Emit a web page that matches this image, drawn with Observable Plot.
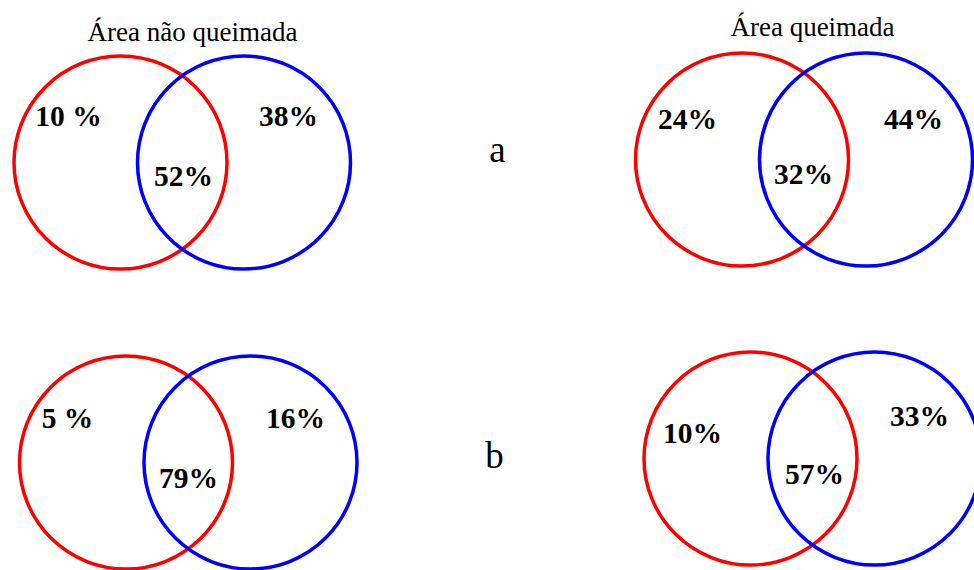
<!DOCTYPE html>
<html>
<head>
<meta charset="utf-8">
<script src="https://cdn.jsdelivr.net/npm/d3@7"></script>
<script src="https://cdn.jsdelivr.net/npm/@observablehq/plot@0.6"></script>
<style>
  html, body { margin: 0; padding: 0; background: #fff; }
  #chart svg { display: block; }
  #chart svg text { font-family: "Liberation Serif", "Times New Roman", Times, serif !important; }
</style>
</head>
<body>
<div id="chart"></div>
<script>
// ---- data ----
const groups = ["Área não queimada", "Área queimada"];
const panels = ["a", "b"];
// percentages per panel (rows a,b) x group (cols)
const redOnlyLabels = [["10 %", "24%"], ["5 %", "10%"]];
const overlapLabels = [["52%", "32%"], ["79%", "57%"]];
const blueOnlyLabels = [["38%", "44%"], ["16%", "33%"]];

// ---- layout (pixel positions of each diagram) ----
const redCenters = [[[120, 162], [741.5, 159]], [[125.5, 462], [750, 458]]];
const blueCenters = [[[243.5, 162], [865.5, 159]], [[250, 462], [874, 458]]];
const redLabelPos = [[[68, 125], [687, 128]], [[67, 427], [692, 442]]];
const overlapLabelPos = [[[183, 185], [803, 183]], [[188, 487], [814, 483]]];
const blueLabelPos = [[[288, 125], [913, 128]], [[295, 427], [919, 425]]];
const titlePos = [[192, 40], [812, 35]];
const panelLetterPos = [[497, 161], [494, 467]];

const circles = [];
const labels = [];
panels.forEach((p, i) => {
  groups.forEach((g, j) => {
    circles.push({x: redCenters[i][j][0], y: redCenters[i][j][1], c: "red"});
    circles.push({x: blueCenters[i][j][0], y: blueCenters[i][j][1], c: "blue"});
    labels.push({x: redLabelPos[i][j][0], y: redLabelPos[i][j][1], t: redOnlyLabels[i][j]});
    labels.push({x: overlapLabelPos[i][j][0], y: overlapLabelPos[i][j][1], t: overlapLabels[i][j]});
    labels.push({x: blueLabelPos[i][j][0], y: blueLabelPos[i][j][1], t: blueOnlyLabels[i][j]});
  });
});
const titles = groups.map((g, j) => ({x: titlePos[j][0], y: titlePos[j][1], t: g}));
const letters = panels.map((p, i) => ({x: panelLetterPos[i][0], y: panelLetterPos[i][1], t: p}));

const chart = Plot.plot({
  width: 974,
  height: 570,
  margin: 0,
  x: {domain: [0, 974], range: [0, 974], axis: null},
  y: {domain: [0, 570], range: [0, 570], axis: null},
  style: {background: "#fff", fontFamily: "'Liberation Serif', 'Times New Roman', serif"},
  marks: [
    Plot.dot(circles, {x: "x", y: "y", r: 106.5, stroke: d => d.c === "red" ? "#ff0000" : "#0000ff", strokeWidth: 3.5, fill: "none"}),
    Plot.text(titles, {x: "x", y: "y", text: "t", lineAnchor: "bottom", fontSize: 27, fill: "#000"}),
    Plot.text(letters, {x: "x", y: "y", text: "t", lineAnchor: "bottom", fontSize: 37, fill: "#000"}),
    Plot.text(labels, {x: "x", y: "y", text: "t", lineAnchor: "bottom", fontWeight: "bold", fontSize: 29.5, fill: "#000"})
  ]
});
document.getElementById("chart").appendChild(chart);
</script>
</body>
</html>
